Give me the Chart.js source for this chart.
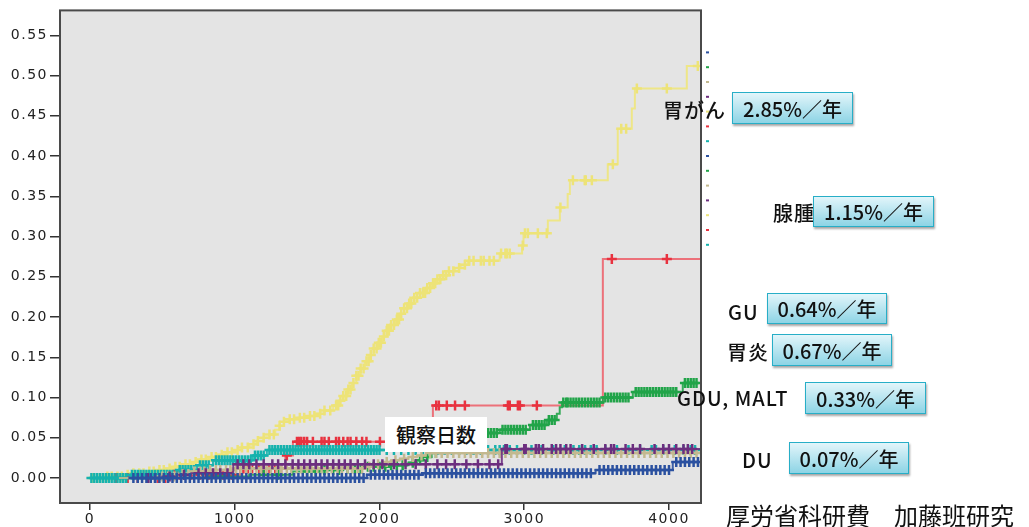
<!DOCTYPE html>
<html>
<head>
<meta charset="utf-8">
<script src="https://cdn.jsdelivr.net/npm/chart.js@4.4.1/dist/chart.umd.min.js"></script>
<style>
  body { margin: 0; background: #fff; }
  #wrap { position: relative; width: 1029px; height: 527px; overflow: hidden; }
  canvas { position: absolute; left: 0; top: 0; }
  .lbl {
    position: absolute;
    font-family: "Noto Sans CJK JP", sans-serif;
    font-size: 20px;
    font-weight: 500;
    letter-spacing: 1px;
    color: #111;
    white-space: nowrap;
    line-height: 1;
    transform: translateY(-50%);
  }
  .box {
    position: absolute;
    box-sizing: border-box;
    border: 1.5px solid #27aec7;
    background: linear-gradient(#e2f5fa, #8dd4e5);
    box-shadow: 1px 2px 2px rgba(0, 0, 0, 0.35);
    font-family: "Noto Sans CJK JP", sans-serif;
    font-size: 20px;
    font-weight: 500;
    color: #111;
    display: flex;
    align-items: center;
    justify-content: center;
    white-space: nowrap;
  }
  .xtitle {
    position: absolute;
    background: #fff;
    font-family: "Noto Sans CJK JP", sans-serif;
    font-size: 20px;
    font-weight: 500;
    color: #111;
    display: flex;
    align-items: center;
    justify-content: center;
  }
  .credit {
    position: absolute;
    font-family: "Noto Sans CJK JP", sans-serif;
    font-size: 24px;
    color: #111;
    white-space: nowrap;
    line-height: 1;
  }
</style>
</head>
<body>
<div id="wrap">
  <canvas id="km" width="1029" height="527"></canvas>

  <div class="xtitle" style="left:385px; top:417px; width:102px; height:35px;">観察日数</div>

  <div class="lbl" style="left:663px; top:110px;">胃がん</div>
  <div class="box" style="left:732px; top:92px; width:121px; height:32px;">2.85%／年</div>

  <div class="lbl" style="left:773px; top:213px;">腺腫</div>
  <div class="box" style="left:813px; top:196px; width:121px; height:31px;">1.15%／年</div>

  <div class="lbl" style="left:728px; top:312px;">GU</div>
  <div class="box" style="left:767px; top:293px; width:120px; height:31px;">0.64%／年</div>

  <div class="lbl" style="left:727px; top:352px;">胃炎</div>
  <div class="box" style="left:772px; top:334px; width:120px; height:32px;">0.67%／年</div>

  <div class="lbl" style="left:677px; top:398px;">GDU, MALT</div>
  <div class="box" style="left:805px; top:382px; width:121px; height:32px;">0.33%／年</div>

  <div class="lbl" style="left:742px; top:460px;">DU</div>
  <div class="box" style="left:789px; top:442px; width:120px; height:32px;">0.07%／年</div>

  <div class="credit" style="left:726px; top:503px;">厚労省科研費　加藤班研究</div>
</div>

<script>
// axis ticks
const xTicks = [0, 1000, 2000, 3000, 4000];
const yTicks = [0, 0.05, 0.10, 0.15, 0.20, 0.25, 0.30, 0.35, 0.40, 0.45, 0.50, 0.55];

// step changes [day, cumulative incidence] per group
const yellowSteps = [[0,0],[120,0.002],[240,0.004],[300,0.006],[380,0.008],[450,0.010],[520,0.012],[580,0.014],[640,0.017],[700,0.020],[760,0.023],[820,0.026],[880,0.029],[940,0.032],[1000,0.035],[1050,0.038],[1100,0.042],[1150,0.046],[1200,0.050],[1240,0.054],[1280,0.060],[1310,0.065],[1340,0.070],[1380,0.073],[1440,0.075],[1500,0.077],[1560,0.080],[1620,0.084],[1680,0.090],[1720,0.096],[1750,0.102],[1780,0.110],[1810,0.118],[1840,0.127],[1870,0.136],[1900,0.145],[1930,0.153],[1960,0.161],[1990,0.168],[2020,0.176],[2050,0.183],[2080,0.190],[2110,0.197],[2140,0.204],[2170,0.211],[2200,0.217],[2240,0.224],[2280,0.230],[2320,0.236],[2360,0.242],[2400,0.247],[2440,0.252],[2480,0.257],[2520,0.261],[2560,0.265],[2610,0.270],[2830,0.279],[2985,0.289],[2995,0.304],[3163,0.320],[3246,0.336],[3300,0.353],[3315,0.370],[3577,0.390],[3646,0.434],[3743,0.459],[3764,0.484],[4123,0.512],[4205,0.512]];
const redSteps = [[150,0],[575,0.004],[1036,0.012],[1350,0.028],[1402,0.045],[2369,0.090],[3543,0.272],[4240,0.272]];
const greenSteps = [[200,0],[800,0.002],[1100,0.004],[1400,0.008],[1600,0.010],[1750,0.012],[1900,0.014],[2050,0.016],[2200,0.019],[2250,0.022],[2300,0.026],[2360,0.031],[2420,0.037],[2490,0.043],[2560,0.049],[2640,0.054],[2700,0.056],[2831,0.060],[3039,0.066],[3156,0.072],[3225,0.080],[3245,0.088],[3260,0.094],[3543,0.100],[3750,0.107],[4095,0.118],[4210,0.118]];
const tealSteps = [[0,0],[276,0.004],[600,0.010],[740,0.016],[850,0.022],[1125,0.028],[1222,0.035],[4215,0.035]];
const purpleSteps = [[300,0],[500,0.002],[600,0.004],[700,0.006],[990,0.017],[2845,0.036],[4215,0.036]];
const tanSteps = [[200,0],[450,0.002],[600,0.005],[700,0.008],[800,0.010],[1000,0.012],[1900,0.014],[1960,0.017],[2020,0.020],[2080,0.022],[2140,0.024],[2200,0.026],[2260,0.028],[2320,0.031],[4220,0.031]];
const blueSteps = [[280,0],[1913,0.004],[2300,0.006],[3493,0.010],[4026,0.020],[4225,0.020]];

// censored observation days per group
const yellowCensor = [20,50,90,120,150,190,220,260,300,340,370,410,440,480,510,550,590,620,660,690,730,770,800,840,870,910,950,980,1020,1050,1090,1130,1160,1200,1240,1270,1310,1340,1380,1410,1450,1480,1520,1550,1590,1620,1660,1700,1715,1730,1750,1770,1785,1800,1820,1840,1855,1870,1890,1910,1925,1940,1960,1980,1995,2010,2030,2050,2065,2080,2100,2120,2135,2150,2170,2190,2205,2220,2240,2260,2280,2300,2315,2330,2350,2370,2385,2400,2420,2440,2460,2480,2510,2550,2590,2620,2650,2700,2720,2760,2790,2840,2870,2880,2900,2990,3005,3025,3094,3156,3250,3336,3418,3425,3467,3612,3670,3704,3778,3985,4199];
const redCensor = [180,260,330,420,470,520,580,600,620,650,700,760,820,870,920,980,1060,1090,1120,1170,1200,1240,1280,1320,1360,1430,1445,1460,1480,1500,1540,1600,1620,1650,1700,1720,1750,1780,1800,1840,1880,1910,2003,2392,2410,2465,2522,2590,2887,2900,2956,2970,3087,3605,3985];
const greenCensor = [900,1200,1300,1500,1560,1620,1680,1720,1780,1830,1870,1920,1960,2000,2040,2080,2120,2160,2230,2280,2330,2390,2450,2520,2600,2680,2720,2750,2770,2790,2810,2850,2870,2890,2910,2930,2950,2970,2990,3010,3060,3080,3100,3120,3140,3170,3190,3210,3270,3290,3300,3320,3340,3360,3380,3400,3420,3440,3460,3480,3500,3520,3560,3580,3600,3620,3640,3660,3680,3700,3720,3770,3790,3810,3830,3850,3870,3890,3910,3930,3950,3970,3990,4010,4030,4050,4110,4130,4150,4170,4190];
const tealCensor = [10,30,50,70,90,110,130,150,170,190,210,230,250,290,310,330,350,370,390,410,430,450,470,490,510,530,550,570,620,640,660,680,700,720,760,780,800,820,870,890,910,930,950,970,990,1010,1030,1050,1070,1090,1110,1140,1160,1180,1200,1240,1260,1280,1300,1320,1340,1360,1380,1400,1420,1440,1460,1480,1500,1520,1540,1560,1580,1600,1620,1640,1660,1680,1700,1720,1740,1760,1780,1800,1820,1840,1860,1880,1900,1920,1940,1960,1980,2000,2050,2100,2150,2200,2250,2300,2350,2400,2450,2500,2550,2600,2650,2700,2750,2800,2830,2860,2900,2950,3000,3050,3120,3200,3280,3340,3380,3420,3460,3500,3560,3640,3720,3800,3880,3910,3960,4040,4100,4150,4180];
const purpleCensor = [400,450,550,650,750,800,850,900,950,1020,1060,1100,1150,1200,1260,1300,1350,1400,1440,1480,1520,1560,1600,1640,1680,1720,1760,1800,1850,1900,1960,2020,2100,2180,2250,2320,2400,2460,2520,2600,2680,2760,2820,2870,2880,3000,3010,3080,3100,3130,3190,3220,3250,3290,3320,3400,3480,3560,3600,3620,3700,3750,3800,3900,3960,4000,4050,4100,4130,4160];
const tanCensor = [500,540,580,640,680,720,760,790,830,870,900,940,970,1010,1040,1080,1110,1150,1180,1220,1250,1290,1320,1360,1390,1430,1460,1500,1530,1570,1600,1640,1670,1710,1740,1780,1810,1850,1880,1930,1990,2050,2110,2170,2230,2290,2350,2390,2430,2470,2510,2550,2590,2630,2670,2710,2750,2790,2830,2870,2910,2950,2990,3030,3070,3110,3150,3190,3230,3270,3310,3350,3390,3430,3470,3510,3550,3590,3630,3670,3710,3750,3790,3830,3870,3910,3950,3990,4030,4070,4110,4150,4190];
const blueCensor = [300,330,360,390,420,450,480,510,540,570,600,630,660,690,720,750,780,810,840,870,900,930,960,990,1020,1050,1080,1110,1140,1170,1200,1230,1260,1290,1320,1350,1380,1410,1440,1470,1500,1530,1560,1590,1620,1650,1680,1710,1740,1770,1800,1830,1860,1890,1940,1970,2000,2030,2060,2090,2120,2150,2180,2210,2240,2270,2320,2350,2380,2410,2440,2470,2500,2530,2560,2590,2620,2650,2680,2710,2740,2770,2800,2830,2860,2890,2920,2950,2980,3010,3040,3070,3100,3130,3160,3190,3220,3250,3280,3310,3340,3370,3400,3430,3460,3520,3550,3580,3610,3640,3670,3700,3730,3760,3790,3820,3850,3880,3910,3940,3970,4000,4050,4080,4110,4140,4170,4200];

// drawn top-most first
const groups = [
  { steps: blueSteps, censor: blueCensor, mark: '#2b51a0', line: 'rgba(43,81,160,0.9)' },
  { steps: purpleSteps, censor: purpleCensor, mark: '#6c2e7f', line: 'rgba(108,46,127,0.9)' },
  { steps: tanSteps, censor: tanCensor, mark: '#c3b98f', line: 'rgba(195,185,143,0.9)' },
  { steps: tealSteps, censor: tealCensor, mark: '#16b2ad', line: 'rgba(22,178,173,0.9)' },
  { steps: greenSteps, censor: greenCensor, mark: '#21a449', line: 'rgba(33,164,73,0.9)' },
  { steps: redSteps, censor: redCensor, mark: '#e8323f', line: 'rgba(236,100,110,0.9)' },
  { steps: yellowSteps, censor: yellowCensor, mark: '#ede378', line: 'rgba(238,230,130,0.95)' }
];

// little coloured dashes of the cut-off legend at the right edge
const legendColors = ['#2b51a0', '#21a449', '#c3b98f', '#6c2e7f', '#ece47a', '#e8323f', '#16b2ad'];

function valueAt(steps, t) {
  let v = steps[0][1];
  for (const [d, y] of steps) {
    if (d <= t) v = y; else break;
  }
  return v;
}

const datasets = [];
groups.forEach(g => {
  datasets.push({
    data: g.censor.map(t => ({ x: t, y: valueAt(g.steps, t) })),
    showLine: false,
    pointStyle: 'cross',
    pointRadius: 5,
    pointBorderWidth: 2.5,
    pointBorderColor: g.mark,
    pointBackgroundColor: g.mark,
    clip: 0
  });
  datasets.push({
    data: g.steps.map(([x, y]) => ({ x, y })),
    stepped: 'before', // flat until the event day, then jump
    borderColor: g.line,
    borderWidth: 2,
    pointRadius: 0,
    fill: false,
    clip: 0
  });
});

const frame = {
  id: 'frame',
  beforeDraw(chart) {
    chart.ctx.letterSpacing = '1.5px';
  },
  beforeDatasetsDraw(chart) {
    const { ctx, chartArea: a } = chart;
    ctx.save();
    ctx.fillStyle = '#e4e4e4';
    ctx.fillRect(a.left, a.top, a.right - a.left, a.bottom - a.top);
    ctx.restore();
  },
  afterDatasetsDraw(chart) {
    const { ctx, chartArea: a } = chart;
    ctx.save();
    ctx.strokeStyle = '#4a4a4a';
    ctx.lineWidth = 2;
    ctx.strokeRect(a.left, a.top, a.right - a.left, a.bottom - a.top);
    for (let i = 0; i < 14; i++) {
      ctx.strokeStyle = legendColors[i % legendColors.length];
      const y = a.top + 42 + i * 14.8;
      ctx.beginPath();
      ctx.moveTo(a.right + 5, y);
      ctx.lineTo(a.right + 8, y);
      ctx.stroke();
    }
    ctx.restore();
  }
};

new Chart(document.getElementById('km'), {
  type: 'line',
  data: { datasets },
  options: {
    responsive: false,
    animation: false,
    layout: { padding: { top: 10, right: 328, left: 0, bottom: 0 } },
    plugins: { legend: { display: false }, tooltip: { enabled: false } },
    scales: {
      x: {
        type: 'linear',
        min: -207,
        max: 4221,
        afterBuildTicks: s => { s.ticks = xTicks.map(v => ({ value: v })); },
        afterFit: s => { s.height = 24; },
        border: { display: false },
        grid: { drawOnChartArea: false, drawTicks: true, tickLength: 7, color: '#333', lineWidth: 1.5 },
        ticks: {
          color: '#222',
          font: { family: 'DejaVu Sans', size: 14 },
          padding: 1,
          maxRotation: 0,
          callback: v => String(v)
        }
      },
      y: {
        type: 'linear',
        min: -0.031,
        max: 0.581,
        afterBuildTicks: s => { s.ticks = yTicks.map(v => ({ value: v })); },
        afterFit: s => { s.width = 60; },
        border: { display: false },
        grid: { drawOnChartArea: false, drawTicks: true, tickLength: 10, color: '#333', lineWidth: 1.5 },
        ticks: {
          color: '#222',
          font: { family: 'DejaVu Sans', size: 14 },
          padding: 2,
          callback: v => v.toFixed(2)
        }
      }
    }
  },
  plugins: [frame]
});
</script>
</body>
</html>
